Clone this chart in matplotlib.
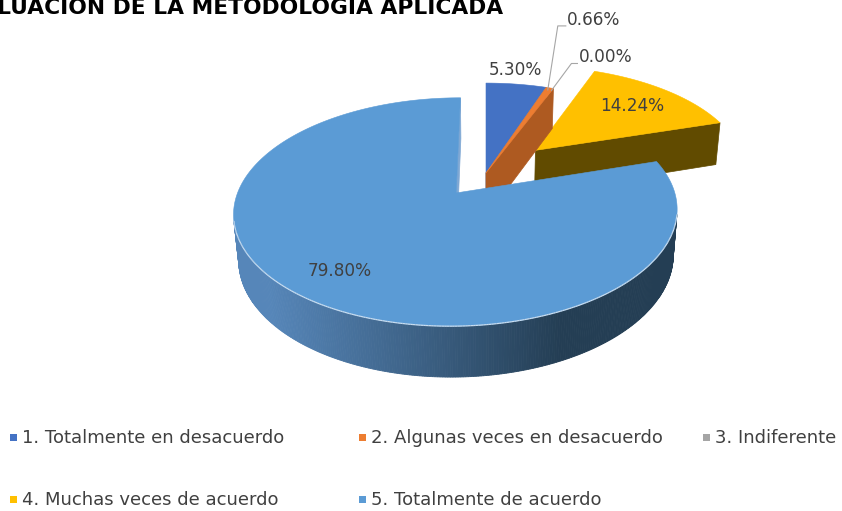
import numpy as np
import matplotlib.pyplot as plt
from matplotlib.patches import Polygon, Rectangle

categories = ["1. Totalmente en desacuerdo", "2. Algunas veces en desacuerdo",
              "3. Indiferente", "4. Muchas veces de acuerdo", "5. Totalmente de acuerdo"]
percentages = [5.30, 0.66, 0.00, 14.24, 79.80]
labels = ["5.30%", "0.66%", "0.00%", "14.24%", "79.80%"]
title = "EVALUACIÓN DE LA METODOLOGÍA APLICADA"

explode = [0, 0, 0, 0.33, 0.23]
top_colors = ["#4472C4", "#ED7D31", "#A5A5A5", "#FFC000", "#5B9BD5"]
side_colors = ["#2F528F", "#AE5A21", "#7C7C7C", "#614B00", "#7FA8D4"]

# fake 3d camera, everything in pixel units of the 842x511 canvas
CX, CY = 486, 173
ELEV = np.radians(28)
DIST = 5.46
FX, FY = 1158, 1215
THICK = 0.23
cam = np.array([0.0, -DIST * np.cos(ELEV), DIST * np.sin(ELEV)])


def project(x, y, z):
    vert = y * np.sin(ELEV) + z * np.cos(ELEV)
    depth = DIST + y * np.cos(ELEV) - z * np.sin(ELEV)
    return CX + FX * x / depth, CY - FY * vert / depth


def poly(pts):
    xs, ys = project(*np.array(pts).T)
    return np.column_stack([xs, ys])


fig = plt.figure(figsize=(8.42, 5.11), dpi=100)
ax = fig.add_axes([0, 0, 1, 1])
ax.set_xlim(0, 842)
ax.set_ylim(511, 0)
ax.axis("off")

frac = np.array(percentages) / sum(percentages)
ends = np.cumsum(frac) * 2 * np.pi
starts = ends - frac * 2 * np.pi
mids = (starts + ends) / 2
offs = [(explode[i] * np.sin(mids[i]), explode[i] * np.cos(mids[i])) for i in range(5)]

order = sorted(range(5), key=lambda i: -(offs[i][1] + 0.5 * np.cos(mids[i])))

light = np.array([86, 134, 185]) / 255
dark = np.array([36, 62, 84]) / 255

for i in order:
    if percentages[i] == 0:
        continue
    t0, t1 = starts[i], ends[i]
    ox, oy = offs[i]
    n = max(3, int((t1 - t0) / 0.01))
    th = np.linspace(t0, t1, n)
    rx = ox + np.sin(th)
    ry = oy + np.cos(th)
    apex = np.array([ox, oy, 0.0])

    # radial faces
    for t, nrm in [(t0, (-np.cos(t0), np.sin(t0), 0)), (t1, (np.cos(t1), -np.sin(t1), 0))]:
        if np.dot(nrm, cam - apex) > 1e-6:
            pts = [(ox, oy, 0), (ox + np.sin(t), oy + np.cos(t), 0),
                   (ox + np.sin(t), oy + np.cos(t), -THICK), (ox, oy, -THICK)]
            ax.add_patch(Polygon(poly(pts), closed=True, fc=side_colors[i],
                                 ec=side_colors[i], lw=0.5))

    # outer wall
    vis_arc = []
    for k in range(n - 1):
        tm = (th[k] + th[k + 1]) / 2
        p = np.array([ox + np.sin(tm), oy + np.cos(tm), 0])
        if np.dot([np.sin(tm), np.cos(tm), 0], cam - p) <= 0:
            continue
        pts = [(rx[k], ry[k], 0), (rx[k + 1], ry[k + 1], 0),
               (rx[k + 1], ry[k + 1], -THICK), (rx[k], ry[k], -THICK)]
        q = poly(pts)
        if i == 4:
            t = np.clip((q[:, 0].mean() - 270) / 290, 0, 1)
            col = light * (1 - t) + dark * t
        else:
            col = side_colors[i]
        ax.add_patch(Polygon(q, closed=True, fc=col, ec=col, lw=0.6))
        vis_arc.append(q[:2])

    # top face
    top = [(ox, oy, 0)] + list(zip(rx, ry, np.zeros(n)))
    ax.add_patch(Polygon(poly(top), closed=True, fc=top_colors[i], ec=top_colors[i], lw=0.4))
    if i == 4:
        for seg in vis_arc:
            ax.plot(seg[:, 0], seg[:, 1], color="#C9DDF0", lw=0.9, solid_capstyle="butt")

# data labels
lab_kw = dict(fontsize=12.2, color="#404040", family="DejaVu Sans")
# 5.30 above rim
x, y = project(offs[0][0] + np.sin(mids[0]), offs[0][1] + np.cos(mids[0]), 0)
ax.text(x - 1, y - 14, labels[0], ha="center", va="center", **lab_kw)
# 0.66 and 0.00 with leader lines
leaders = [(1, (10, -64), (18, -64)), (2, (20, -27), (26, -27))]
for i, elbow, end in leaders:
    x, y = project(offs[i][0] + np.sin(mids[i]), offs[i][1] + np.cos(mids[i]), 0)
    x -= 2
    y += 2
    ax.plot([x, x + elbow[0], x + end[0]], [y, y + elbow[1], y + end[1]],
            color="#A6A6A6", lw=0.8)
    ax.text(x + end[0] + 1, y + end[1] - 6, labels[i], ha="left", va="center", **lab_kw)
# inside labels
for i, r in [(3, 0.72), (4, 0.78)]:
    x, y = project(offs[i][0] + r * np.sin(mids[i]), offs[i][1] + r * np.cos(mids[i]), 0)
    ax.text(x, y, labels[i], ha="center", va="center", **lab_kw)

# title, cut off at the left and top like the source image
ax.text(503, 14, title, ha="right", va="baseline", fontsize=15.7,
        fontweight="bold", color="black", family="DejaVu Sans")

# legend
leg_kw = dict(lab_kw, fontsize=13.0)
leg_pos = [(13, 438), (362, 438), (706, 438), (13, 500), (362, 500)]
for (lx, ly), name, col in zip(leg_pos, categories, top_colors):
    ax.add_patch(Rectangle((lx - 3.5, ly - 3.5), 7, 7, fc=col, ec="none"))
    ax.text(lx + 9, ly, name, ha="left", va="center", **leg_kw)

fig.savefig("out.png", dpi=100)
